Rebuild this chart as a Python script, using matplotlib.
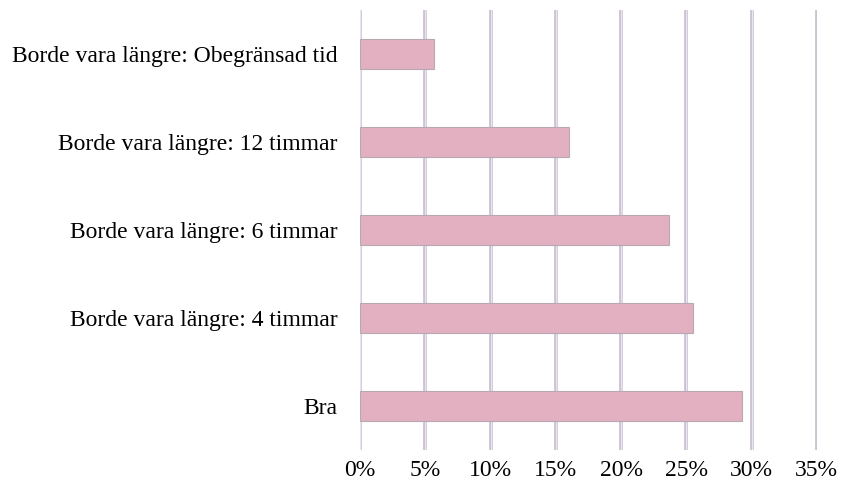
import matplotlib.pyplot as plt
from matplotlib.ticker import FuncFormatter

categories = ["Bra", "Borde vara längre: 4 timmar", "Borde vara längre: 6 timmar",
              "Borde vara längre: 12 timmar", "Borde vara längre: Obegränsad tid"]
values = [29.25, 25.5, 23.65, 16.0, 5.65]
xticks = [0, 5, 10, 15, 20, 25, 30, 35]

plt.rcParams["font.family"] = ["Liberation Serif", "DejaVu Serif"]

fig = plt.figure(figsize=(8.43, 4.93), dpi=100)
ax = fig.add_axes([0.427, 0.087, 0.542, 0.893])

# vertical gridlines: light lavender with darker edge
for t in xticks:
    ax.axvline(t, color="#c4bccc", linewidth=2.6, zorder=1)
    ax.axvline(t, color="#ebe3f2", linewidth=1.0, zorder=1)

ax.barh(range(len(categories)), values, height=0.34, color="#e3b0c1",
        edgecolor="#b8a8b0", linewidth=0.8, zorder=2)

ax.set_xlim(0, 35)
ax.set_ylim(-0.5, 4.5)
ax.set_xticks(xticks)
ax.xaxis.set_major_formatter(FuncFormatter(lambda v, p: f"{v:.0f}%"))
ax.set_yticks(range(len(categories)))
ax.set_yticklabels(categories)
ax.tick_params(axis="both", length=0, labelsize=17)
ax.tick_params(axis="y", pad=16)
ax.tick_params(axis="x", pad=7)
for s in ax.spines.values():
    s.set_visible(False)

fig.savefig("out.png", dpi=100)
